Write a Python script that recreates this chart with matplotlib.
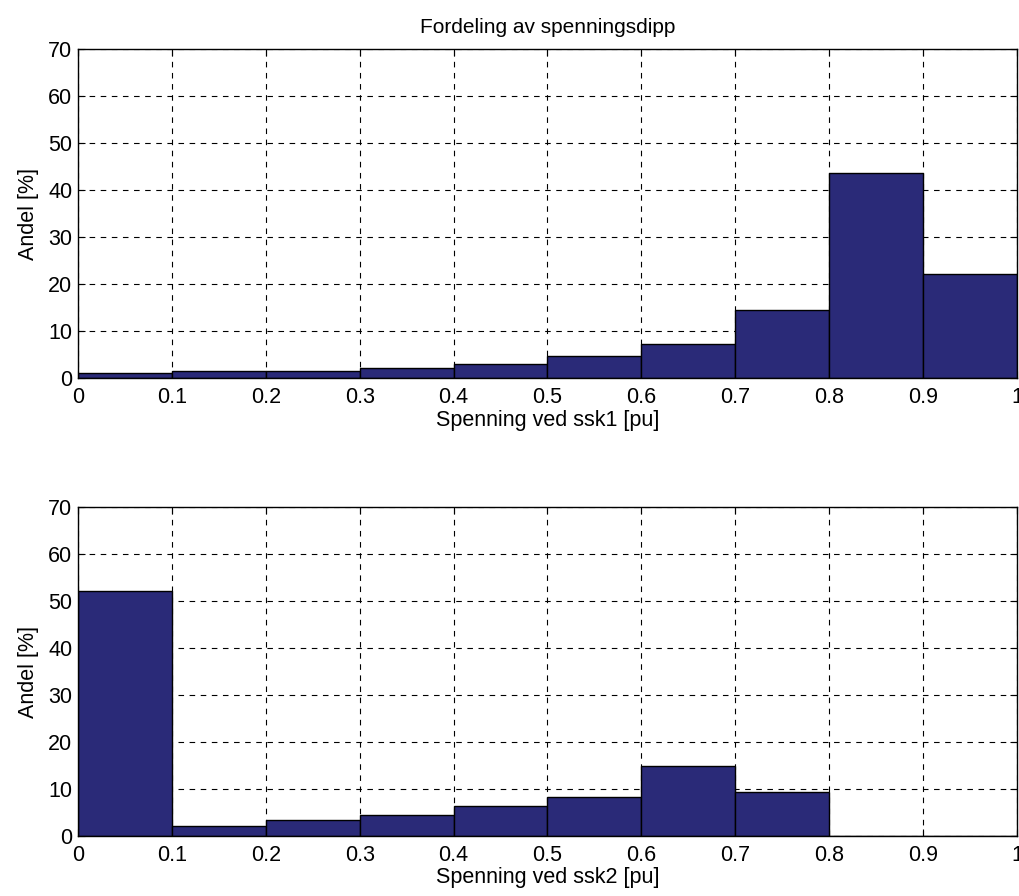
import matplotlib
matplotlib.use("Agg")
import matplotlib.pyplot as plt
import numpy as np

plt.rcParams['font.family'] = ['Liberation Sans', 'DejaVu Sans']

bin_edges = [0, 0.1, 0.2, 0.3, 0.4, 0.5, 0.6, 0.7, 0.8, 0.9, 1.0]
ssk1_share = [1.1, 1.5, 1.5, 2.2, 3.0, 4.7, 7.3, 14.5, 43.7, 22.2]
ssk2_share = [52.2, 2.2, 3.4, 4.4, 6.3, 8.4, 14.9, 9.3, 0.0, 0.0]
xtick_vals = [0, 0.1, 0.2, 0.3, 0.4, 0.5, 0.6, 0.7, 0.8, 0.9, 1.0]
xtick_labels = ['0', '0.1', '0.2', '0.3', '0.4', '0.5', '0.6', '0.7', '0.8', '0.9', '1']
ytick_vals = [0, 10, 20, 30, 40, 50, 60, 70]

title = 'Fordeling av spenningsdipp'
xlabels = ['Spenning ved ssk1 [pu]', 'Spenning ved ssk2 [pu]']
ylabel = 'Andel [%]'

fig = plt.figure(figsize=(10.19, 8.96), dpi=100)
ax1 = fig.add_axes([0.0765, 0.578, 0.9215, 0.367])
ax2 = fig.add_axes([0.0765, 0.067, 0.9215, 0.367])

bar_color = '#2a2a78'
fs = 15.5
for ax, vals, xl in [(ax1, ssk1_share, xlabels[0]), (ax2, ssk2_share, xlabels[1])]:
    left = np.array(bin_edges[:-1])
    widths = np.diff(bin_edges)
    ax.bar(left, vals, width=widths, align='edge', color=bar_color,
           edgecolor='black', linewidth=1.0, zorder=3)
    ax.set_xlim(0, 1)
    ax.set_ylim(0, 70)
    ax.set_xticks(xtick_vals)
    ax.set_xticklabels(xtick_labels)
    ax.set_yticks(ytick_vals)
    ax.grid(True, color='black', linestyle=(0, (5, 5)), linewidth=0.8, zorder=1)
    ax.set_axisbelow(True)
    ax.tick_params(direction='in', top=True, right=True, labelsize=fs, length=5)
    ax.tick_params(axis='x', pad=6.5)
    ax.tick_params(axis='y', pad=4)
    ax.set_xlabel(xl, fontsize=fs, labelpad=1)
    ax.set_ylabel(ylabel, fontsize=fs, labelpad=7)
    for s in ax.spines.values():
        s.set_linewidth(1.0)
        s.set_zorder(4)

ax1.set_title(title, fontsize=15, pad=12)

fig.savefig('out.png', dpi=100)
